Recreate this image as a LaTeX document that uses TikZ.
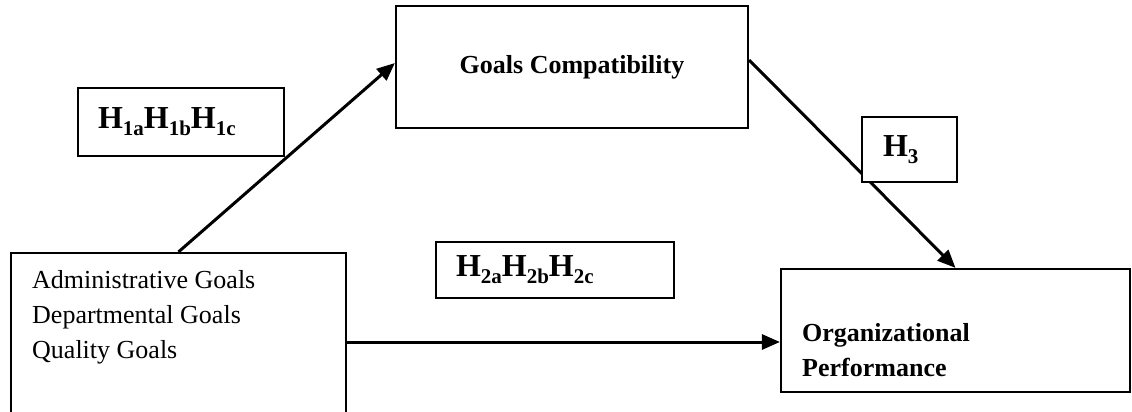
\documentclass[tikz,border=0pt]{standalone}
\usepackage{fontspec}
\setmainfont{Liberation Serif}
\usetikzlibrary{arrows.meta,positioning}

\newcommand{\hyp}[1]{H\raisebox{-0.22em}{\fontsize{21pt}{21pt}\selectfont#1}}

\begin{document}
\begin{tikzpicture}[
  x=1pt, y=-1pt,
  box/.style={draw, line width=2.2pt, fill=white},
  hbox/.style={draw, line width=1.5pt, fill=white, align=left, inner xsep=20pt, inner ysep=0pt,
    font=\fontsize{32pt}{38pt}\selectfont\bfseries},
  txt/.style={inner sep=0pt, align=left, anchor=north west},
  arr/.style={-{Triangle[length=18pt,width=15pt]}, line width=3pt}
]
  \clip (0,0) rectangle (1132,412);

  \node[box, minimum width=352pt, minimum height=122pt, font=\fontsize{26pt}{35pt}\selectfont\bfseries] (gc) at (572,67) {Goals Compatibility};
  \node[box, minimum width=335pt, minimum height=178pt] (goals) at (178.5,342) {};
  \node[txt, font=\fontsize{26pt}{35pt}\selectfont] (goalstext) at (32,270) {Administrative Goals\\Departmental Goals\\Quality Goals};
  \node[box, minimum width=349pt, minimum height=123pt] (perf) at (955.5,330.5) {};
  \node[txt, font=\fontsize{26pt}{35pt}\selectfont\bfseries] (perftext) at (802,323) {Organizational\\Performance};

  \draw[arr] (goals.north) -- ([yshift=4pt]gc.west);
  \draw[arr] ([yshift=7pt]gc.east) -- (perf.north);
  \draw[arr] (goals.east) -- (goals.east -| perf.west);

  % hypothesis labels
  \node[hbox, text width=166pt, minimum height=68pt] (hone) at (181,122) {\hyp{1a}\hyp{1b}\hyp{1c}};
  \node[hbox, text width=198pt, minimum height=56pt] (htwo) at (555,270) {\hyp{2a}\hyp{2b}\hyp{2c}};
  \node[hbox, text width=53pt, inner xsep=21pt, minimum height=65pt] (hthree) at (909.5,149.5) {\hyp{3}};
\end{tikzpicture}
\end{document}
